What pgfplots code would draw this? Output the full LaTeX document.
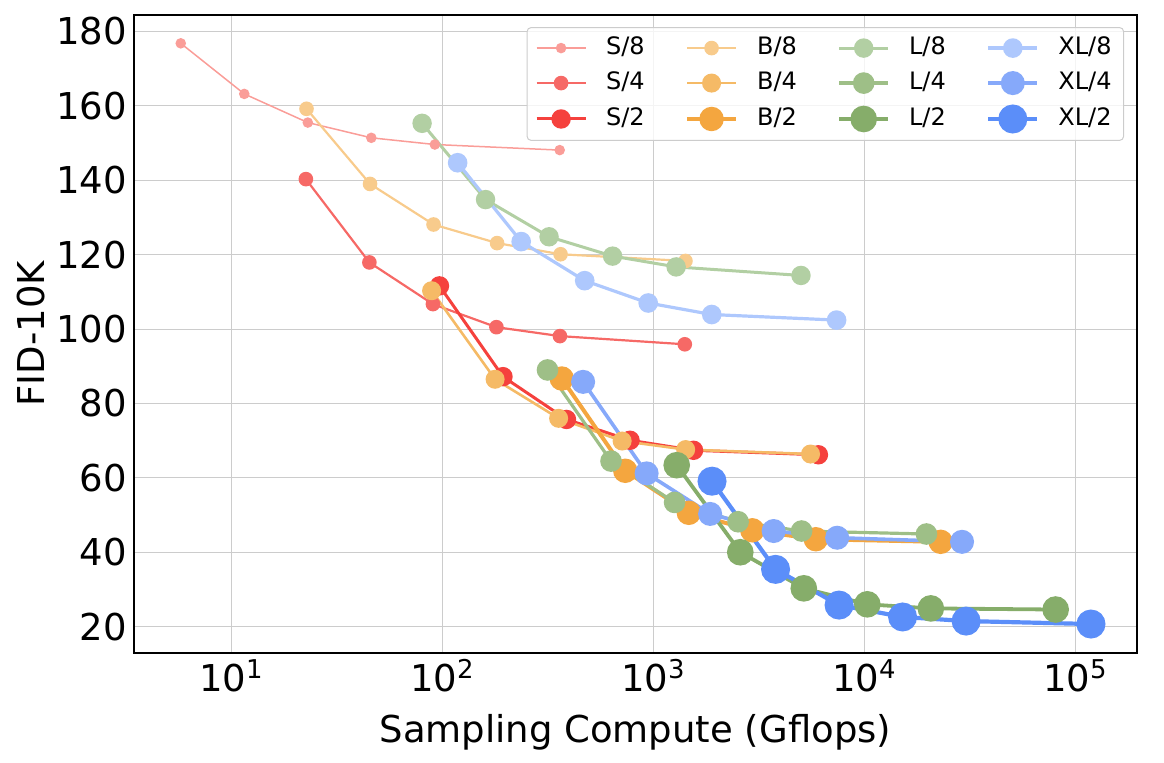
\documentclass[border=0pt]{standalone}
\usepackage{fontspec}
\setmainfont{DejaVu Sans}
\usepackage{pgfplots}
\pgfplotsset{compat=1.18}

\definecolor{cS8}{HTML}{FA9D98}
\definecolor{cS4}{HTML}{F66966}
\definecolor{cS2}{HTML}{F5413D}
\definecolor{cB8}{HTML}{F8CB8C}
\definecolor{cB4}{HTML}{F5BA66}
\definecolor{cB2}{HTML}{F4A63F}
\definecolor{cL8}{HTML}{B2CFA3}
\definecolor{cL4}{HTML}{9EBF87}
\definecolor{cL2}{HTML}{86AD6A}
\definecolor{cX8}{HTML}{AEC8FD}
\definecolor{cX4}{HTML}{86A9FA}
\definecolor{cX2}{HTML}{5B8EF9}

\pgfplotsset{
  S8/.style={color=cS8, line width=0.75pt, mark=*, mark size=2.25pt, mark options={draw=none, fill opacity=1}},
  S4/.style={color=cS4, line width=1.1pt, mark=*, mark size=3.1pt, mark options={draw=none, fill opacity=1}},
  S2/.style={color=cS2, line width=1.5pt, mark=*, mark size=4.1pt, mark options={draw=none, fill opacity=1}},
  B8/.style={color=cB8, line width=1.1pt, mark=*, mark size=3.1pt, mark options={draw=none, fill opacity=1}},
  B4/.style={color=cB4, line width=1.3pt, mark=*, mark size=4.1pt, mark options={draw=none, fill opacity=1}},
  B2/.style={color=cB2, line width=2pt, mark=*, mark size=5.1pt, mark options={draw=none, fill opacity=1}},
  L8/.style={color=cL8, line width=1.5pt, mark=*, mark size=4.1pt, mark options={draw=none, fill opacity=1}},
  L4/.style={color=cL4, line width=1.6pt, mark=*, mark size=4.6pt, mark options={draw=none, fill opacity=1}},
  L2/.style={color=cL2, line width=1.9pt, mark=*, mark size=5.7pt, mark options={draw=none, fill opacity=1}},
  X8/.style={color=cX8, line width=1.6pt, mark=*, mark size=4.1pt, mark options={draw=none, fill opacity=1}},
  X4/.style={color=cX4, line width=1.8pt, mark=*, mark size=5.1pt, mark options={draw=none, fill opacity=1}},
  X2/.style={color=cX2, line width=2.1pt, mark=*, mark size=6.2pt, mark options={draw=none, fill opacity=1}},
}

\begin{document}
\begin{tikzpicture}
\begin{axis}[
  at={(0,0)}, anchor=south west,
  scale only axis,
  width=501.35pt, height=319pt,
  xmode=log,
  xmin=3.458, xmax=195400,
  ymin=13, ymax=184.5,
  xtick={10,100,1000,10000,100000},
  xticklabels={10\textsuperscript{1},10\textsuperscript{2},10\textsuperscript{3},10\textsuperscript{4},10\textsuperscript{5}},
  xminorticks=false,
  ytick={20,40,60,80,100,120,140,160,180},
  /pgf/number format/assume math mode=true,
  major tick length=0pt,
  grid=major,
  grid style={black!20, line width=0.5pt},
  axis line style={line width=0.9pt},
  tick label style={font=\fontsize{18.5}{21}\selectfont},
  label style={font=\fontsize{18.5}{22}\selectfont},
  xlabel={Sampling Compute (Gflops)},
  ylabel={FID-10K},
  xlabel style={at={(axis description cs:0.5,0)}, anchor=center, yshift=-40pt},
  ylabel style={at={(axis description cs:-0.1022,0.5)}, anchor=center},
  legend columns=4,
  legend cell align=left,
  legend image code/.code={\draw[fill opacity=1, draw opacity=1, mark repeat=2, mark phase=2] plot coordinates {(0pt,0pt)(12.25pt,0pt)(24.5pt,0pt)};},
  legend style={at={(1,1)}, anchor=north east, xshift=-6.3pt, yshift=-6.2pt,
    draw=black!20, line width=0.5pt, rounded corners=2pt,
    fill=white, fill opacity=0.8, text opacity=1,
    font=\fontsize{12}{14}\selectfont,
    inner xsep=4pt, inner ysep=4.5pt, row sep=6pt,
    nodes={text height=9pt, text depth=2.5pt, inner ysep=0pt},
    /tikz/every odd column/.append style={column sep=7.5pt},
    /tikz/every even column/.append style={column sep=18.2pt}},
]
% S models
\addplot[S8, forget plot] coordinates {(5.76,176.8) (11.52,163.2) (23.04,155.5) (46.08,151.4) (92.16,149.6) (360,148.1)};
\addplot[S4, forget plot] coordinates {(22.56,140.3) (45.12,117.9) (90.24,106.7) (180.5,100.5) (361,98.1) (1410,95.9)};
\addplot[S2, forget plot] coordinates {(96.96,111.6) (193.9,87.2) (387.8,75.7) (775.7,70.1) (1551,67.4) (6060,66.2)};
% B models
\addplot[B8, forget plot] coordinates {(22.72,159.2) (45.44,139.0) (90.88,128.1) (181.8,123.1) (363.5,120.1) (1420,118.3)};
\addplot[B4, forget plot] coordinates {(88.96,110.3) (177.9,86.5) (355.8,76.0) (711.7,69.9) (1423,67.6) (5560,66.4)};
\addplot[B2, forget plot] coordinates {(368.2,86.7) (736.3,61.9) (1473,50.6) (2945,45.9) (5891,43.5) (23010,42.8)};
% L models
\addplot[L8, forget plot] coordinates {(80.2,155.3) (160.3,134.8) (320.6,124.8) (641.3,119.6) (1283,116.7) (5010,114.4)};
\addplot[L4, forget plot] coordinates {(315.2,89.0) (630.4,64.5) (1261,53.4) (2522,48.2) (5043,45.7) (19700,44.9)};
\addplot[L2, forget plot] coordinates {(1291,63.4) (2583,40.0) (5166,30.3) (10331,26.0) (20662,24.9) (80710,24.6)};
% XL models
\addplot[X8, forget plot] coordinates {(118.2,144.7) (236.5,123.5) (473,113.0) (945.9,107.0) (1892,103.9) (7390,102.4)};
\addplot[X4, forget plot] coordinates {(464.8,85.8) (929.6,61.2) (1859,50.3) (3718,45.7) (7437,43.9) (29050,42.8)};
\addplot[X2, forget plot] coordinates {(1898,59.1) (3797,35.4) (7594,25.8) (15186,22.6) (30372,21.5) (118640,20.7)};

% legend, filled by rows
\addlegendimage{S8}\addlegendentry{S/8}
\addlegendimage{B8}\addlegendentry{B/8}
\addlegendimage{L8}\addlegendentry{L/8}
\addlegendimage{X8}\addlegendentry{XL/8}
\addlegendimage{S4}\addlegendentry{S/4}
\addlegendimage{B4}\addlegendentry{B/4}
\addlegendimage{L4}\addlegendentry{L/4}
\addlegendimage{X4}\addlegendentry{XL/4}
\addlegendimage{S2}\addlegendentry{S/2}
\addlegendimage{B2}\addlegendentry{B/2}
\addlegendimage{L2}\addlegendentry{L/2}
\addlegendimage{X2}\addlegendentry{XL/2}
\end{axis}
\pgfresetboundingbox
\path[use as bounding box] (-67pt,-55.15pt) rectangle (515pt,326.35pt);
\end{tikzpicture}
\end{document}
